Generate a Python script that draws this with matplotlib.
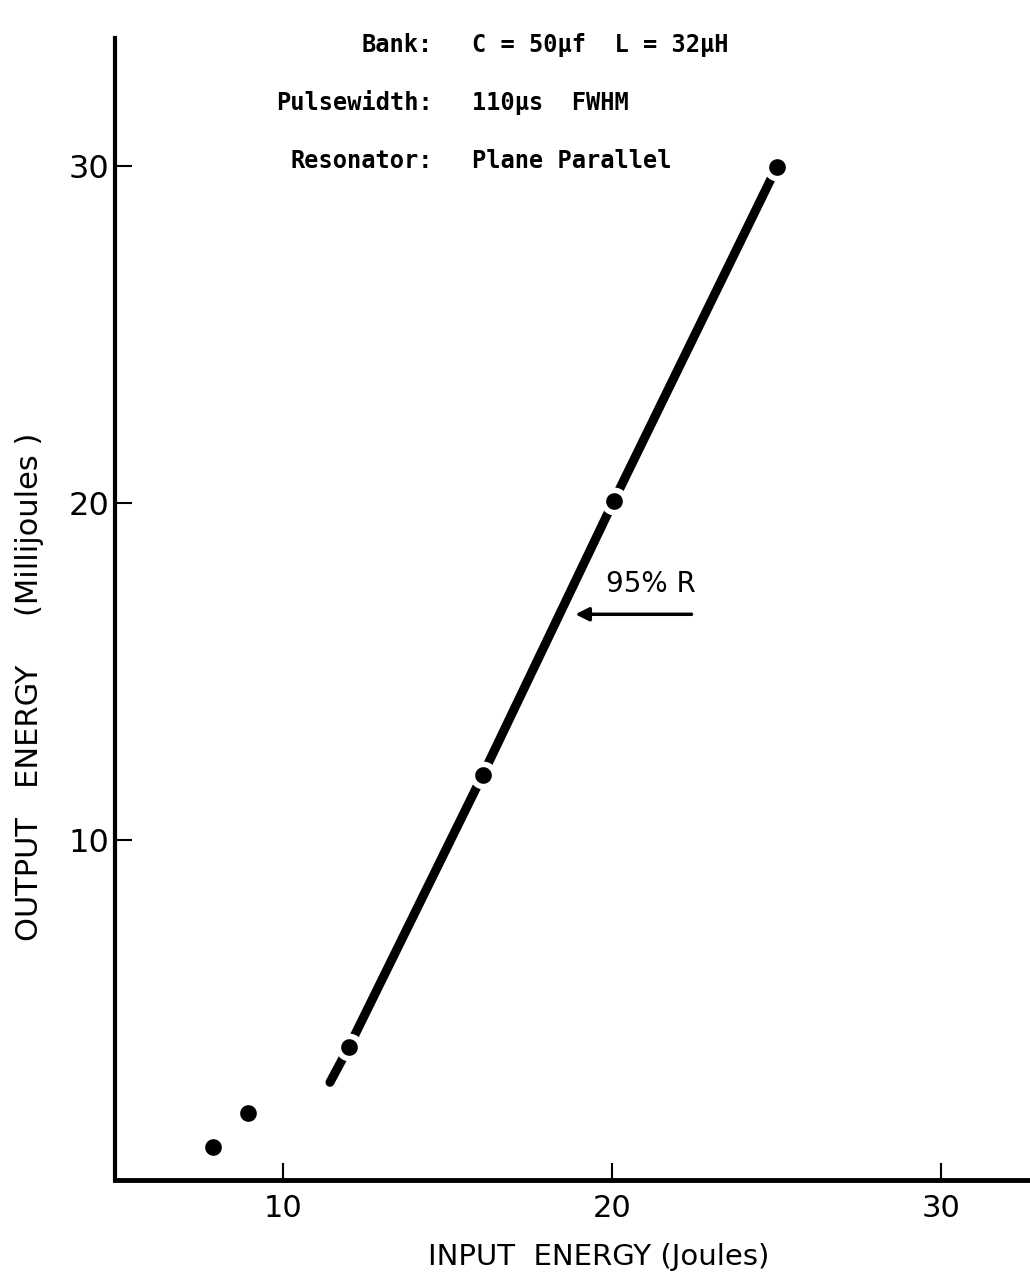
import matplotlib
matplotlib.use("Agg")
import matplotlib.pyplot as plt

# Data
input_energy = [7.88, 8.94, 12.0, 16.07, 20.05, 25.0]
output_energy = [0.89, 1.9, 3.84, 11.93, 20.06, 29.97]
fit_x = [11.43, 12.0, 16.07, 20.05, 25.0]
fit_y = [2.8, 3.84, 11.93, 20.06, 29.97]
xticks = [10, 20, 30]
yticks = [10, 20, 30]
info_labels = ["Bank:", "Pulsewidth:", "Resonator:"]
info_values = ["C = 50\u03bcf  L = 32\u03bcH", "110\u03bcs  FWHM", "Plane Parallel"]

fig = plt.figure(figsize=(10.30, 12.83), dpi=100)
ax = fig.add_axes([0.1117, 0.0803, 0.8883, 0.8897])
ax.set_xlim(4.9, 32.7)
ax.set_ylim(-0.1, 33.8)

ax.plot(fit_x, fit_y, color="black", lw=6.5, solid_capstyle="round", zorder=2)
ax.plot(input_energy, output_energy, "o", color="black", ms=16, mec="white",
        mew=4, zorder=3)

for s in ["top", "right"]:
    ax.spines[s].set_visible(False)
ax.spines["left"].set_linewidth(3.0)
ax.spines["bottom"].set_linewidth(3.5)

ax.set_xticks(xticks)
ax.set_yticks(yticks)
ax.tick_params(axis="x", direction="in", length=12, width=1.5, labelsize=22, pad=10)
ax.tick_params(axis="y", direction="in", length=12, width=1.5, labelsize=23, pad=4)
for lab in ax.get_xticklabels() + ax.get_yticklabels():
    lab.set_fontfamily("DejaVu Sans")
    lab.set_fontweight("normal")

ax.set_xlabel("INPUT  ENERGY (Joules)", fontsize=21)
ax.xaxis.set_label_coords(0.529, -0.0675)
ax.xaxis.label.set_va("center")
ax.set_ylabel("OUTPUT   ENERGY     (Millijoules )", fontsize=22)
ax.yaxis.set_label_coords(-0.093, 0.432)
ax.yaxis.label.set_va("center")

ys = [33.6, 31.88, 30.15]
for lab, val, y in zip(info_labels, info_values, ys):
    ax.text(14.55, y, lab, ha="right", va="center", fontsize=17,
            family="DejaVu Sans Mono", fontweight="bold", clip_on=False)
    ax.text(15.75, y, val, ha="left", va="center", fontsize=17,
            family="DejaVu Sans Mono", fontweight="bold", clip_on=False)

ax.annotate("", xy=(18.8, 16.7), xytext=(22.5, 16.7),
            arrowprops=dict(arrowstyle="-|>", color="black", lw=2.5,
                            mutation_scale=20))
ax.text(21.17, 17.6, "95% R", ha="center", va="center", fontsize=20)

fig.savefig("out.png", dpi=100)
